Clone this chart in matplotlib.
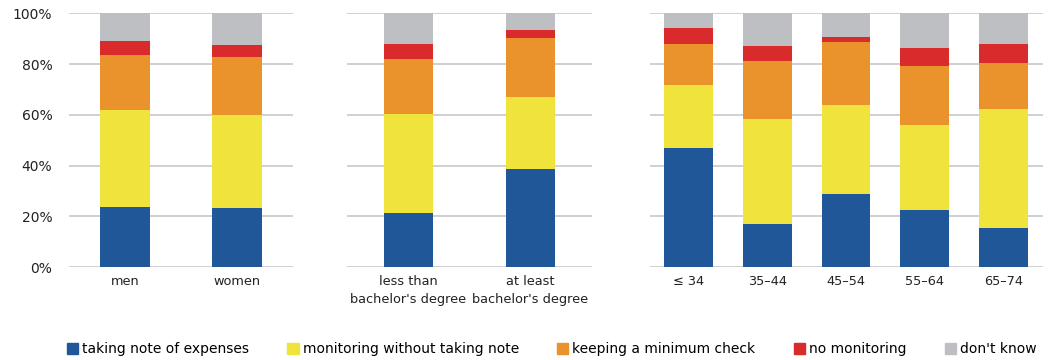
import matplotlib.pyplot as plt
import numpy as np

plt.rcdefaults()
plt.rcParams['font.family'] = ['DejaVu Sans']

series = ['taking note of expenses', 'monitoring without taking note',
          'keeping a minimum check', 'no monitoring', "don't know"]
colors = ['#1F5799', '#F0E33C', '#EA922B', '#D92B2B', '#BEBFC3']

# cumulative tops, per group (blue, yellow, orange, red; gray fills to 100)
gender_labels = ['men', 'women']
gender_cum = [[23.8, 61.8, 83.5, 89.1],
              [23.4, 60.1, 82.7, 87.6]]

edu_labels = ['less than\nbachelor\'s degree', 'at least\nbachelor\'s degree']
edu_cum = [[21.5, 60.3, 81.9, 87.9],
           [38.5, 67.2, 90.4, 93.4]]

age_labels = ['\u2264 34', '35\u201344', '45\u201354', '55\u201364', '65\u201374']
age_cum = [[46.8, 71.8, 88.0, 94.3],
           [17.0, 58.5, 81.2, 87.2],
           [29.0, 64.0, 88.8, 90.6],
           [22.7, 55.9, 79.3, 86.2],
           [15.3, 62.2, 80.4, 88.0]]

fig = plt.figure(figsize=(10.51, 3.6), dpi=100)

panels = [
    (gender_labels, gender_cum, [0.0657, 0.258, 0.213, 0.705], 0.45, True),
    (edu_labels, edu_cum, [0.330, 0.258, 0.233, 0.705], 0.40, False),
    (age_labels, age_cum, [0.618, 0.258, 0.374, 0.705], 0.62, False),
]

for labels, cum, rect, width, show_y in panels:
    ax = fig.add_axes(rect)
    cum = np.array(cum)
    full = np.hstack([cum, np.full((len(labels), 1), 100.0)])
    x = np.arange(len(labels))
    bottom = np.zeros(len(labels))
    for i, c in enumerate(colors):
        h = full[:, i] - bottom
        ax.bar(x, h, width=width, bottom=bottom, color=c, zorder=2, linewidth=0)
        bottom = full[:, i]
    ax.set_xlim(-0.5, len(labels) - 0.5)
    ax.set_ylim(0, 100)
    ax.set_yticks(range(0, 101, 20))
    ax.yaxis.grid(True, color='#C8C8C8', linewidth=1.2, zorder=1)
    ax.set_axisbelow(True)
    ax.set_xticks(x)
    ax.set_xticklabels(labels, fontsize=9.3, color='#222222', linespacing=1.45)
    if show_y:
        ax.set_yticklabels([f'{v}%' for v in range(0, 101, 20)], fontsize=10, color='#222222')
    else:
        ax.set_yticklabels([])
    ax.tick_params(axis='both', length=0)
    ax.tick_params(axis='y', pad=12)
    ax.tick_params(axis='x', pad=6)
    for s in ax.spines.values():
        s.set_visible(False)

handles = [plt.Rectangle((0, 0), 1, 1, color=c) for c in colors]
fig.legend(handles, series, loc='center', bbox_to_anchor=(0.525, 0.03), ncol=5,
           frameon=False, fontsize=10, handlelength=0.8, handleheight=0.8,
           handletextpad=0.3, columnspacing=2.75)

fig.savefig('out.png', dpi=100)
